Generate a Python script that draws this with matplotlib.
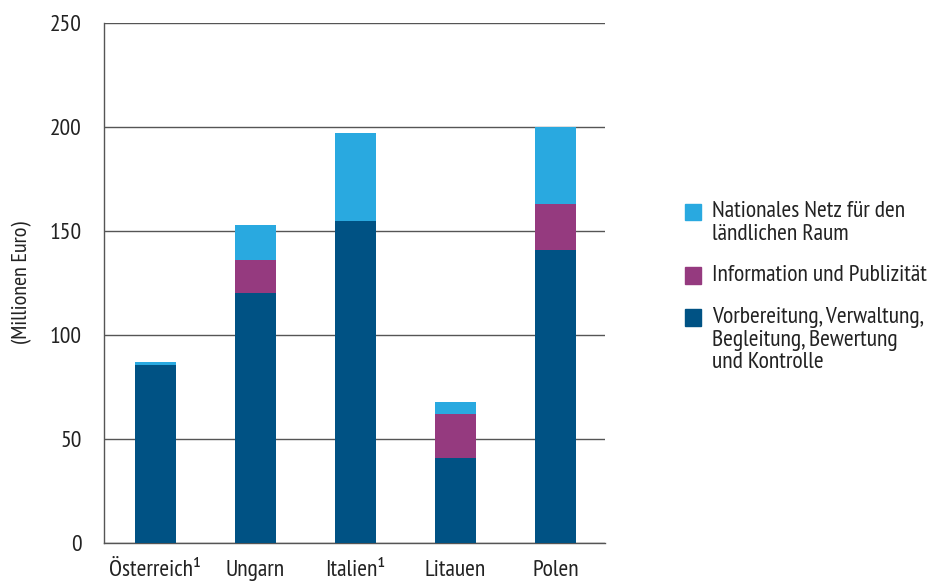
import matplotlib.pyplot as plt
from matplotlib.patches import Rectangle
import numpy as np

plt.rcParams['font.family'] = ['PT Sans Narrow', 'DejaVu Sans']

countries = ["Österreich¹", "Ungarn", "Italien¹", "Litauen", "Polen"]
verwaltung = [85.5, 120, 155, 41, 141]
publizitaet = [0, 16, 0, 21, 22]
netz = [1.5, 17, 42, 6, 37]

series_names = ["Nationales Netz für den\nländlichen Raum",
                "Information und Publizität",
                "Vorbereitung, Verwaltung,\nBegleitung, Bewertung\nund Kontrolle"]
c_light = "#29a9e0"
c_purple = "#953a7f"
c_dark = "#005284"

fig = plt.figure(figsize=(9.3, 5.83), dpi=100)
ax = fig.add_axes([0.112, 0.0686, 0.539, 0.892])

x = np.arange(len(countries))
w = 0.41
v = np.array(verwaltung)
p = np.array(publizitaet)
n = np.array(netz)
ax.bar(x, v, w, color=c_dark, zorder=3)
ax.bar(x, p, w, bottom=v, color=c_purple, zorder=3)
ax.bar(x, n, w, bottom=v + p, color=c_light, zorder=3)

ax.set_xlim(-0.51, 4.5)
ax.set_ylim(0, 250)
ax.set_yticks([0, 50, 100, 150, 200, 250])
ax.yaxis.grid(True, color="#555555", linewidth=1, zorder=0)
ax.set_xticks(x)
ax.set_xticklabels(countries, fontsize=17, color="#222222")
ax.tick_params(axis="y", labelsize=17, labelcolor="#222222", length=0, pad=16)
ax.tick_params(axis="x", length=0, pad=12)
for s in ["top", "right"]:
    ax.spines[s].set_visible(False)
for s in ["left", "bottom"]:
    ax.spines[s].set_color("#555555")
    ax.spines[s].set_linewidth(1)
ax.set_ylabel("(Millionen Euro)", fontsize=16, color="#222222", labelpad=13)

# legend drawn by hand so squares sit on the first text line
leg_colors = [c_light, c_purple, c_dark]
leg_y = [0.636, 0.527, 0.455]
for col, yy, name in zip(leg_colors, leg_y, series_names):
    fig.patches.append(Rectangle((0.7365, yy - 0.0135), 0.0172, 0.028,
                                 transform=fig.transFigure, color=col))
    fig.text(0.766, yy + 0.019, name, fontsize=17, va="top", ha="left",
             color="#222222", linespacing=1.12)

fig.savefig("out.png")
